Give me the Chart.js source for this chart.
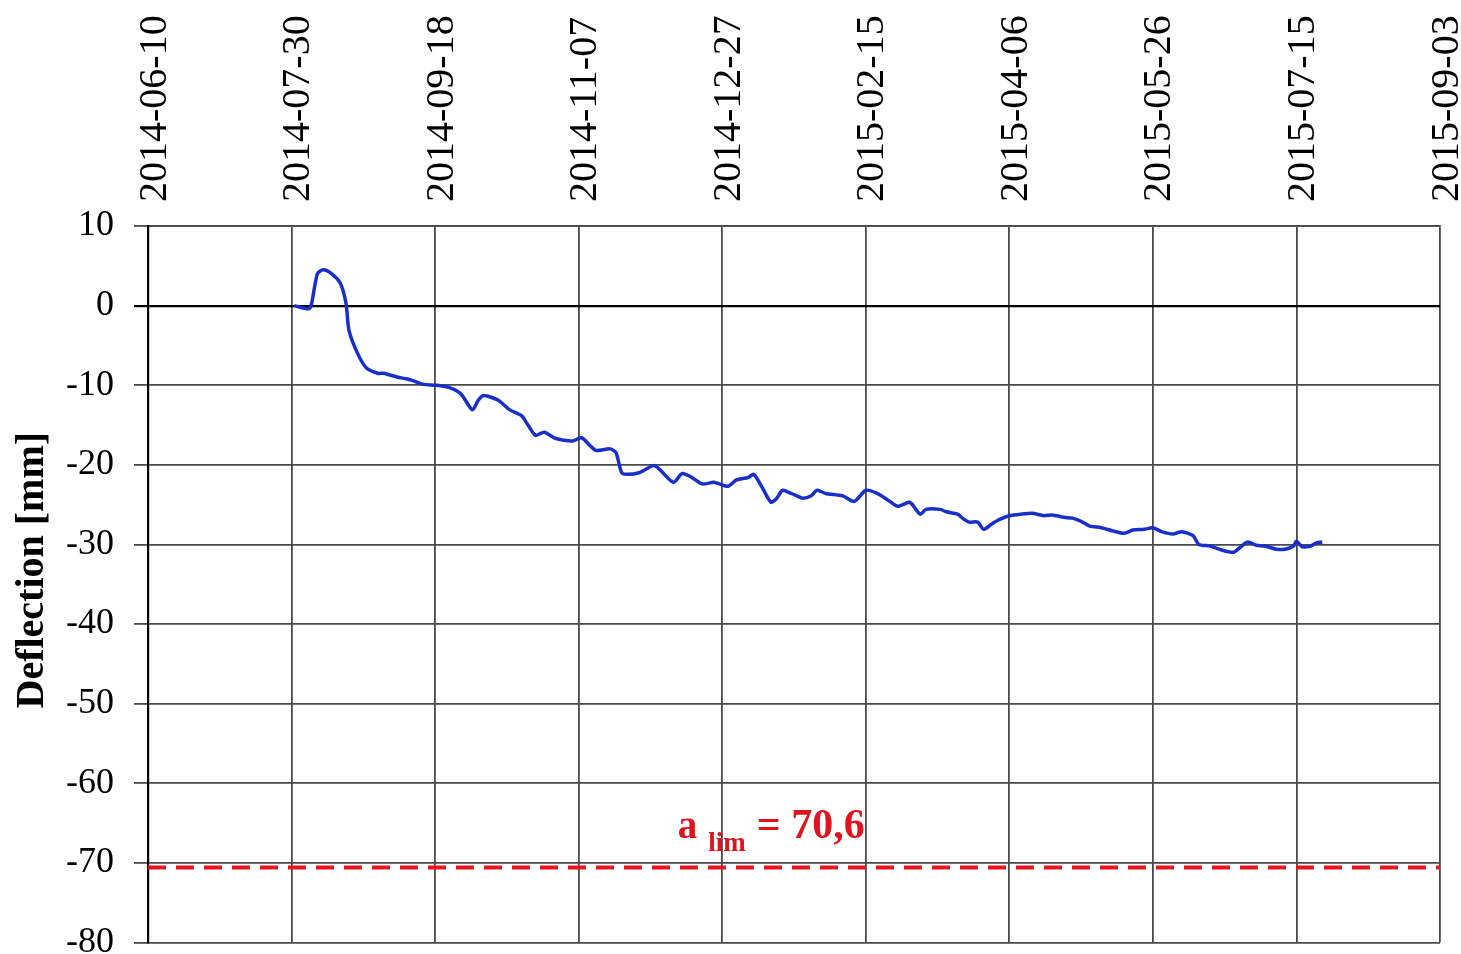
<!DOCTYPE html>
<html>
<head>
<meta charset="utf-8">
<script src="https://cdn.jsdelivr.net/npm/chart.js@4/dist/chart.umd.min.js"></script>
<style>
  html, body { margin: 0; padding: 0; background: #fff; overflow: hidden; }
  #wrap { position: absolute; left: 0; top: 0; width: 1461px; height: 984px; }
</style>
</head>
<body>
<div id="wrap"><canvas id="c"></canvas></div>
<script>
// ---- data ----
const baseDate = '2014-06-10';
const xSpanDays = 450;
const xStepDays = 50;
const yMin = -80, yMax = 10, yStep = 10;
const yTitle = 'Deflection [mm]';
const limitValue = -70.6;
const limitLabelMain = 'a';
const limitLabelSub = 'lim';
const limitLabelRest = '= 70,6';

const dates = [
  '2014-07-31','2014-08-05','2014-08-06','2014-08-08','2014-08-10','2014-08-13','2014-08-16','2014-08-18',
  '2014-08-19','2014-08-22','2014-08-25','2014-08-29','2014-08-31','2014-09-05','2014-09-08','2014-09-10',
  '2014-09-14','2014-09-18','2014-09-23','2014-09-27','2014-10-01','2014-10-03','2014-10-05','2014-10-10',
  '2014-10-14','2014-10-18','2014-10-20','2014-10-23','2014-10-26','2014-10-30','2014-11-05','2014-11-08',
  '2014-11-11','2014-11-13','2014-11-18','2014-11-20','2014-11-22','2014-11-24','2014-11-28','2014-12-03',
  '2014-12-05','2014-12-10','2014-12-13','2014-12-16','2014-12-20','2014-12-24','2014-12-26','2014-12-29',
  '2015-01-01','2015-01-05','2015-01-07','2015-01-10','2015-01-13','2015-01-15','2015-01-17','2015-01-20',
  '2015-01-22','2015-01-24','2015-01-27','2015-01-29','2015-02-01','2015-02-07','2015-02-11','2015-02-15',
  '2015-02-19','2015-02-23','2015-02-26','2015-03-02','2015-03-03','2015-03-06','2015-03-08','2015-03-13',
  '2015-03-15','2015-03-19','2015-03-21','2015-03-23','2015-03-26','2015-03-28','2015-03-31','2015-04-03',
  '2015-04-06','2015-04-10','2015-04-14','2015-04-18','2015-04-21','2015-04-25','2015-04-28','2015-05-01',
  '2015-05-04','2015-05-08','2015-05-12','2015-05-16','2015-05-19','2015-05-23','2015-05-26','2015-05-29',
  '2015-06-02','2015-06-05','2015-06-09','2015-06-11','2015-06-15','2015-06-18','2015-06-23','2015-06-25',
  '2015-06-28','2015-07-01','2015-07-04','2015-07-08','2015-07-11','2015-07-14','2015-07-15','2015-07-17',
  '2015-07-20','2015-07-22','2015-07-24'
];
const deflection = [
  0.0, -0.4, 0.3, 4.0, 4.5, 4.0, 2.8, 0.2,
  -3.1, -6.0, -7.8, -8.5, -8.5, -9.0, -9.2, -9.4,
  -9.9, -10.0, -10.3, -11.1, -13.1, -11.9, -11.3, -11.9,
  -13.1, -13.8, -14.8, -16.3, -15.9, -16.7, -17.0, -16.6,
  -17.6, -18.2, -18.0, -18.5, -21.0, -21.2, -21.0, -20.1,
  -20.5, -22.2, -21.1, -21.5, -22.4, -22.2, -22.4, -22.7,
  -21.9, -21.6, -21.2, -22.9, -24.7, -24.2, -23.2, -23.6,
  -23.9, -24.2, -23.9, -23.2, -23.6, -23.9, -24.6, -23.2,
  -23.6, -24.5, -25.2, -24.7, -24.9, -26.2, -25.6, -25.6,
  -25.9, -26.2, -26.8, -27.2, -27.2, -28.1, -27.4, -26.8,
  -26.4, -26.2, -26.1, -26.4, -26.3, -26.6, -26.7, -27.1,
  -27.7, -27.9, -28.3, -28.6, -28.2, -28.1, -27.9, -28.4,
  -28.7, -28.4, -28.9, -30.0, -30.2, -30.6, -31.0, -30.5,
  -29.7, -30.1, -30.2, -30.6, -30.6, -30.2, -29.6, -30.3,
  -30.2, -29.8, -29.7
];

// ---- helpers ----
const DAY = 86400000;
const baseMs = Date.parse(baseDate + 'T00:00:00Z');
const toDays = d => (Date.parse(d + 'T00:00:00Z') - baseMs) / DAY;
const toDateLabel = v => new Date(baseMs + v * DAY).toISOString().slice(0, 10);

const serif = '"Liberation Serif", "Times New Roman", serif';

const linePoints = dates.map((d, i) => ({ x: toDays(d), y: deflection[i] }));
const limitPoints = [{ x: 0, y: limitValue }, { x: xSpanDays, y: limitValue }];

const extraText = {
  id: 'extraText',
  afterDraw(chart) {
    const ctx = chart.ctx;
    const xs = chart.scales.x, ys = chart.scales.y;
    const area = chart.chartArea;
    ctx.save();
    // y-axis title
    ctx.fillStyle = '#000';
    ctx.font = 'bold 40px ' + serif;
    ctx.textAlign = 'center';
    ctx.textBaseline = 'middle';
    ctx.translate(33, (area.top + area.bottom) / 2 - 14);
    ctx.rotate(-Math.PI / 2);
    ctx.fillText(yTitle, 0, 0);
    ctx.restore();

    // limit label
    ctx.save();
    ctx.fillStyle = '#e0141e';
    ctx.textBaseline = 'alphabetic';
    ctx.textAlign = 'left';
    let x = xs.getPixelForValue(184.5);
    const yb = ys.getPixelForValue(limitValue) - 30;
    ctx.font = 'bold 39px ' + serif;
    ctx.fillText(limitLabelMain, x, yb);
    x += ctx.measureText(limitLabelMain).width + 11;
    ctx.font = 'bold 27px ' + serif;
    ctx.fillText(limitLabelSub, x, yb + 13);
    x += ctx.measureText(limitLabelSub).width + 11;
    ctx.font = 'bold 42px ' + serif;
    ctx.fillText(limitLabelRest, x, yb);
    ctx.restore();
  }
};

new Chart(document.getElementById('c'), {
  type: 'line',
  data: {
    datasets: [
      {
        label: 'Deflection',
        data: linePoints,
        borderColor: '#1a2fc8',
        borderWidth: 3.5,
        pointRadius: 0,
        tension: 0.25,
        fill: false,
        order: 1
      },
      {
        label: 'a_lim',
        data: limitPoints,
        borderColor: '#e8141e',
        borderWidth: 4,
        borderDash: [18, 10],
        pointRadius: 0,
        fill: false,
        order: 2
      }
    ]
  },
  options: {
    responsive: true,
    maintainAspectRatio: false,
    animation: false,
    layout: { padding: { left: 0, right: 21, top: 0, bottom: 22 } },
    plugins: { legend: { display: false }, tooltip: { enabled: false } },
    scales: {
      x: {
        type: 'linear',
        position: 'top',
        min: 0,
        max: xSpanDays,
        afterFit(scale) { scale.height = 226; scale.paddingLeft = 0; scale.paddingRight = 0; },
        afterBuildTicks(scale) {
          const t = [];
          for (let v = 0; v <= xSpanDays; v += xStepDays) t.push({ value: v });
          scale.ticks = t;
        },
        ticks: {
          stepSize: xStepDays,
          minRotation: 90,
          maxRotation: 90,
          autoSkip: false,
          padding: 24,
          labelOffset: 55,
          color: '#000',
          font: { family: serif, size: 40 },
          callback: v => toDateLabel(v)
        },
        grid: { color: '#4a4a4a', lineWidth: 1.8, drawTicks: false },
        border: { display: true, color: '#4a4a4a', width: 1.8 }
      },
      y: {
        min: yMin,
        max: yMax,
        afterFit(scale) { scale.width = 148; },
        ticks: {
          stepSize: yStep,
          padding: 20,
          color: '#000',
          font: { family: serif, size: 36 }
        },
        grid: {
          color: ctx => (ctx.tick && ctx.tick.value === 0) ? '#000' : '#4a4a4a',
          lineWidth: ctx => (ctx.tick && ctx.tick.value === 0) ? 2.2 : 1.8,
          tickLength: 14,
          drawTicks: true
        },
        border: { display: true, color: '#000', width: 2.2 }
      }
    }
  },
  plugins: [extraText]
});
</script>
</body>
</html>
